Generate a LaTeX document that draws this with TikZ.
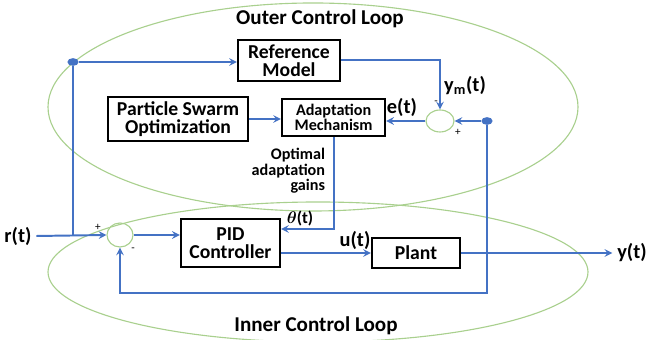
\documentclass[tikz,border=0pt]{standalone}
\usepackage{amsmath, amssymb}
\usepackage{fontspec}
\setmainfont{Carlito}
\usepackage{tikz}
\usetikzlibrary{shapes,arrows,positioning,calc}

\definecolor{sigblue}{RGB}{68,114,196}
\definecolor{loopgreen}{RGB}{169,208,142}

\begin{document}
\begin{tikzpicture}[
    blockbox/.style={rectangle, draw, line width=1.6pt, align=center, inner sep=1pt,
        font=\bfseries\fontsize{14}{13}\selectfont},
    sumnode/.style={ellipse, draw=loopgreen, line width=0.8pt, inner sep=0pt},
    dotnode/.style={ellipse, fill=sigblue, minimum width=8pt, minimum height=5.5pt, inner sep=0pt},
    sig/.style={draw=sigblue, line width=1.4pt},
    arrow/.style={sig, ->, >=stealth},
    siglabel/.style={font=\bfseries\fontsize{14.5}{14}\selectfont},
    looplabel/.style={font=\bfseries\fontsize{15}{15}\selectfont},
    signlabel/.style={font=\fontsize{8}{8}\selectfont, inner sep=0pt}
]
\useasboundingbox (0,0) rectangle (16.225,8.5);

% Loop ellipses
\draw[loopgreen, line width=0.8pt] (7.825,5.825) ellipse [x radius=6.625, y radius=2.6];
\draw[loopgreen, line width=0.8pt] (7.95,1.7) ellipse [x radius=6.75, y radius=1.75];
\node[looplabel] (outertitle) at (8.0,8.025) {Outer Control Loop};
\node[looplabel] (innertitle) at (7.9,0.35) {Inner Control Loop};

% Blocks
\node[blockbox, minimum width=2.55cm, minimum height=1.025cm] (ref) at (7.225,6.99) {Reference\\Model};
\node[blockbox, minimum width=3.5cm, minimum height=1.1cm] (pso) at (4.45,5.525) {Particle Swarm\\Optimization};
\node[blockbox, minimum width=2.575cm, minimum height=0.925cm,
      font=\bfseries\fontsize{11.5}{10.5}\selectfont] (adapt) at (8.34,5.56) {Adaptation\\Mechanism};
\node[blockbox, minimum width=2.475cm, minimum height=1.2cm] (pid) at (5.76,2.425) {PID\\Controller};
\node[blockbox, minimum width=2.2cm, minimum height=0.75cm] (plant) at (10.4,2.175) {Plant};

% Summing junctions and branch points
\node[sumnode, minimum width=0.7cm, minimum height=0.55cm] (sum1) at (11.0,5.475) {};
\node[sumnode, minimum width=0.65cm, minimum height=0.6cm] (sum2) at (3.0,2.625) {};
\node[dotnode] (dot1) at (1.825,6.95) {};
\node[dotnode] (dot2) at (12.175,5.475) {};
\coordinate (fbcorner) at (12.175,1.175);

% Signals
\node[siglabel] (rin) at (0.45,2.6) {r(t)};
\node[siglabel] (yout) at (15.8,2.175) {y(t)};
\node[siglabel] (ym) at (11.625,6.35) {y\textsubscript{m}(t)};
\node[siglabel] (et) at (10.05,5.825) {e(t)};
\node[siglabel] (ut) at (8.875,2.5) {u(t)};
\node[font=\bfseries\fontsize{12}{12}\selectfont] (theta) at (7.5,3.025) {$\boldsymbol{\theta}$(t)};
\node[font=\bfseries\fontsize{11.5}{11}\selectfont, align=right, anchor=east] (gains) at (8.25,4.225)
    {Optimal\\adaptation\\gains};

% Signs
\node[signlabel] (m1) at (10.9,5.93) {-};
\node[signlabel] (p1) at (11.45,5.2) {+};
\node[signlabel] (p2) at (2.45,2.82) {+};
\node[signlabel] (m2) at (3.33,2.25) {-};

% Connections
\draw[arrow] (rin.east) -- (sum2.west);
\draw[sig] (dot1) -- (dot1 |- sum2);
\draw[arrow] (dot1) -- (dot1 -| ref.west);
\draw[arrow] (ref.east) -| (sum1.north);
\draw[arrow] (sum1.west) -- (sum1.west -| adapt.east);
\draw[arrow] (pso.east) -- (pso.east -| adapt.west);
\draw[arrow] (dot2) -- (sum1.east);
\draw[arrow] (adapt.south) |- ([yshift=0.35cm]pid.east);
\draw[arrow] (sum2.east) -- (sum2.east -| pid.west);
\draw[arrow] ([yshift=-0.25cm]pid.east) -- (plant.west);
\draw[arrow] (plant.east) -- (yout.west);
\draw[arrow] (dot2) -- (fbcorner) -| (sum2.south);

\end{tikzpicture}
\end{document}
